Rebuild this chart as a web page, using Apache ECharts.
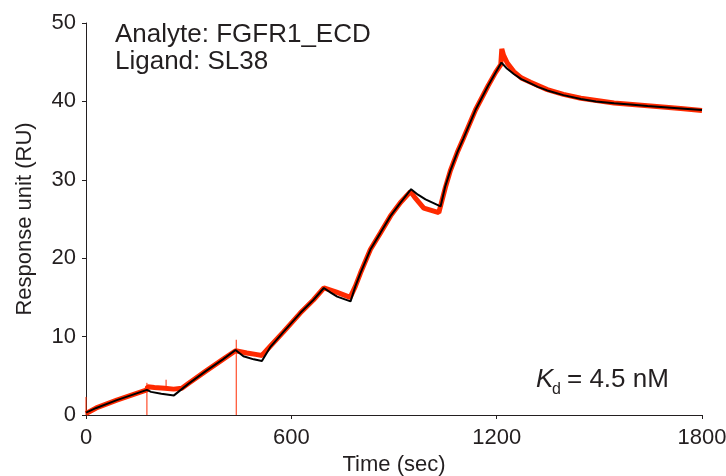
<!DOCTYPE html>
<html>
<head>
<meta charset="utf-8">
<script src="https://cdn.jsdelivr.net/npm/echarts@6/dist/echarts.min.js"></script>
<style>
  html, body { margin: 0; padding: 0; background: #fff; }
  #chart { width: 726px; height: 476px; }
</style>
</head>
<body>
<div id="chart"></div>
<script>
// fitted curve (black)
var fitT  = [0, 30, 90, 178, 190, 220, 257, 300, 350, 400, 437, 460, 490, 514, 539, 577, 626, 665, 695, 715, 734, 773,
             787, 802, 831, 860, 890, 919, 950, 970, 992, 1036, 1050, 1065, 1085, 1102, 1138, 1175, 1197, 1214,
             1230, 1250, 1272, 1299, 1320, 1348, 1395, 1446, 1490, 1543, 1590, 1641, 1690, 1738, 1800];
var fitRU = [0.3, 0.9, 1.9, 3.2, 2.95, 2.7, 2.5, 4.0, 5.6, 7.1, 8.3, 7.5, 7.1, 6.9, 8.7, 10.6, 13.0, 14.7, 16.2, 15.6, 15.1, 14.5,
             16.4, 18.1, 21.1, 23.2, 25.4, 27.1, 28.8, 28.1, 27.5, 26.6, 29.2, 31.2, 33.5, 35.2, 38.9, 42.0, 43.7, 44.95,
             44.2, 43.5, 42.85, 42.3, 41.85, 41.4, 40.8, 40.3, 40.0, 39.75, 39.6, 39.4, 39.25, 39.1, 38.9];

// measured response (red)
var measT  = [0, 30, 90, 178, 180, 200, 230, 256, 280, 300, 350, 400, 437, 440, 470, 500, 514, 539, 577, 626, 665, 695,
              700, 730, 772, 787, 802, 831, 860, 890, 919, 948, 960, 987, 1031, 1050, 1065, 1085, 1102, 1138, 1175, 1197,
              1212, 1215, 1220, 1231, 1250, 1272, 1299, 1348, 1395, 1446, 1543, 1641, 1738, 1800];
var measRU = [0.2, 0.9, 1.9, 3.2, 3.6, 3.5, 3.4, 3.3, 3.4, 4.05, 5.6, 7.1, 8.2, 8.1, 7.9, 7.7, 7.6, 8.8, 10.6, 13.0, 14.7, 16.2,
              16.4, 15.7, 15.0, 16.4, 18.1, 21.1, 23.2, 25.4, 27.1, 28.5, 27.8, 26.4, 25.8, 29.0, 31.2, 33.5, 35.2, 38.9, 42.0, 43.7,
              44.7, 46.7, 45.9, 44.9, 43.8, 43.0, 42.45, 41.5, 40.9, 40.4, 39.8, 39.45, 39.1, 38.85];

// injection spikes in the raw trace
var spikeT  = [0, 178, 234, 439];
var spikeLo = [0, 0, 3.4, 0];
var spikeHi = [2.3, 4.1, 4.5, 9.6];

var xMin = 0, xMax = 1800, xStep = 600;
var yMin = 0, yMax = 50, yStep = 10;

var ink = '#231f20';
var red = '#ff2a00';
var font = 'Arial, "Liberation Sans", sans-serif';

function pairs(xs, ys) {
    var out = [];
    for (var i = 0; i < xs.length; i++) out.push([xs[i], ys[i]]);
    return out;
}

var series = [];
series.push({
    name: 'measured',
    type: 'line',
    data: pairs(measT, measRU),
    showSymbol: false,
    lineStyle: { color: red, width: 5 },
    z: 2,
    animation: false
});
for (var i = 0; i < spikeT.length; i++) {
    series.push({
        type: 'line',
        data: [[spikeT[i], spikeLo[i]], [spikeT[i], spikeHi[i]]],
        showSymbol: false,
        lineStyle: { color: red, width: 1 },
        z: 2,
        animation: false
    });
}
series.push({
    name: 'fit',
    type: 'line',
    data: pairs(fitT, fitRU),
    showSymbol: false,
    lineStyle: { color: '#000', width: 2 },
    z: 3,
    animation: false
});

var chart = echarts.init(document.getElementById('chart'), null, { renderer: 'canvas' });
chart.setOption({
    backgroundColor: '#fff',
    animation: false,
    grid: { left: 86, right: 24, top: 23, bottom: 61, containLabel: false, outerBoundsMode: 'none' },
    xAxis: {
        type: 'value',
        min: xMin, max: xMax, interval: xStep,
        name: 'Time (sec)',
        nameLocation: 'middle',
        nameGap: 39,
        nameTextStyle: { color: ink, fontSize: 22, fontFamily: font },
        axisLine: { onZero: false, lineStyle: { color: ink, width: 1 } },
        axisTick: { show: true, inside: false, length: 4, lineStyle: { color: ink } },
        axisLabel: { color: ink, fontSize: 22, fontFamily: font, margin: 12, formatter: function (v) { return String(v); } },
        splitLine: { show: false }
    },
    yAxis: {
        type: 'value',
        min: yMin, max: yMax, interval: yStep,
        name: 'Response unit (RU)',
        nameLocation: 'middle',
        nameGap: 50,
        nameTextStyle: { color: ink, fontSize: 22, fontFamily: font },
        axisLine: { show: true, lineStyle: { color: ink, width: 1 } },
        axisTick: { show: true, inside: false, length: 4, lineStyle: { color: ink } },
        axisLabel: { color: ink, fontSize: 22, fontFamily: font, margin: 10 },
        splitLine: { show: false }
    },
    graphic: [
        { type: 'text', x: 115, y: 35, style: { text: 'Analyte: FGFR1_ECD', fill: ink, font: '26px ' + font, textAlign: 'left', textVerticalAlign: 'middle' } },
        { type: 'text', x: 115, y: 62, style: { text: 'Ligand: SL38', fill: ink, font: '26px ' + font, textAlign: 'left', textVerticalAlign: 'middle' } },
        { type: 'text', x: 536, y: 380, style: { text: 'K', fill: ink, font: 'italic 26px ' + font, textAlign: 'left', textVerticalAlign: 'middle' } },
        { type: 'text', x: 552, y: 390, style: { text: 'd', fill: ink, font: '16px ' + font, textAlign: 'left', textVerticalAlign: 'middle' } },
        { type: 'text', x: 567, y: 380, style: { text: '= 4.5 nM', fill: ink, font: '26px ' + font, textAlign: 'left', textVerticalAlign: 'middle' } }
    ],
    series: series
});
</script>
</body>
</html>
